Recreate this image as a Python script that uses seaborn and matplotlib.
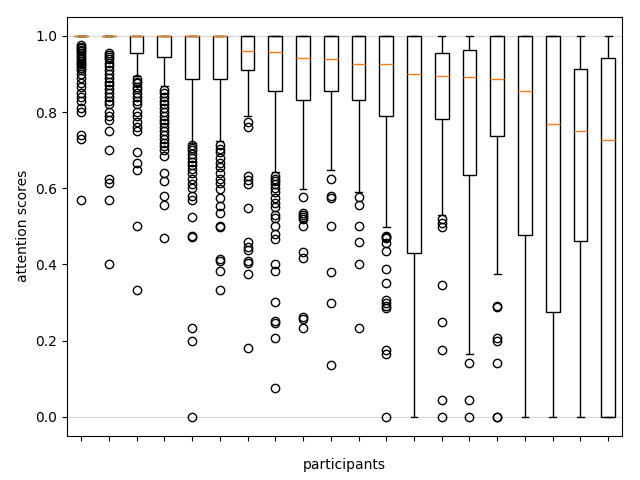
import numpy as np
import pandas as pd
import matplotlib
matplotlib.use("Agg")
import matplotlib.pyplot as plt
import seaborn as sns

participants = [f"P{i}" for i in range(1, 21)]

# box stats
q1s = [1.0, 1.0, 0.956, 0.944, 0.886, 0.886, 0.911, 0.854, 0.832, 0.854,
       0.832, 0.790, 0.431, 0.781, 0.636, 0.738, 0.476, 0.276, 0.462, 0.0]
medians = [1.0, 1.0, 1.0, 1.0, 1.0, 1.0, 0.960, 0.957, 0.941, 0.938,
           0.925, 0.925, 0.899, 0.894, 0.891, 0.886, 0.855, 0.768, 0.749, 0.726]
q3s = [1.0, 1.0, 1.0, 1.0, 1.0, 1.0, 1.0, 1.0, 1.0, 1.0,
       1.0, 1.0, 1.0, 0.954, 0.962, 1.0, 1.0, 1.0, 0.912, 0.941]
whisker_low = [1.0, 1.0, 0.895, 0.869, 0.720, 0.725, 0.790, 0.643, 0.599, 0.648,
               0.589, 0.499, 0.0, 0.530, 0.165, 0.374, 0.0, 0.0, 0.0, 0.0]
whisker_high = [1.0] * 20

outliers = [
    [0.976, 0.972, 0.968, 0.964, 0.96, 0.955, 0.95, 0.945, 0.94, 0.935, 0.93,
     0.925, 0.92, 0.915, 0.91, 0.90, 0.89, 0.875, 0.865, 0.85, 0.84, 0.83,
     0.81, 0.80, 0.74, 0.73, 0.57],
    [0.955, 0.95, 0.945, 0.94, 0.93, 0.92, 0.91, 0.90, 0.89, 0.88, 0.87, 0.86,
     0.85, 0.84, 0.83, 0.82, 0.80, 0.79, 0.78, 0.75, 0.70, 0.625, 0.615,
     0.57, 0.40],
    [0.888, 0.88, 0.875, 0.865, 0.86, 0.85, 0.84, 0.83, 0.82, 0.80, 0.79,
     0.775, 0.76, 0.75, 0.695, 0.665, 0.647, 0.50, 0.333],
    [0.858, 0.85, 0.84, 0.83, 0.82, 0.81, 0.80, 0.79, 0.78, 0.77, 0.76, 0.75,
     0.74, 0.73, 0.72, 0.71, 0.70, 0.685, 0.64, 0.62, 0.58, 0.555, 0.47],
    [0.713, 0.705, 0.70, 0.69, 0.68, 0.67, 0.66, 0.65, 0.64, 0.625, 0.61,
     0.60, 0.58, 0.57, 0.525, 0.475, 0.472, 0.233, 0.20, 0.0],
    [0.713, 0.703, 0.694, 0.68, 0.666, 0.655, 0.641, 0.625, 0.615, 0.597,
     0.575, 0.553, 0.536, 0.50, 0.499, 0.415, 0.41, 0.384, 0.333],
    [0.775, 0.762, 0.632, 0.622, 0.61, 0.549, 0.459, 0.447, 0.438, 0.409,
     0.403, 0.374, 0.181],
    [0.632, 0.625, 0.62, 0.61, 0.60, 0.59, 0.575, 0.56, 0.55, 0.53, 0.521,
     0.50, 0.479, 0.468, 0.40, 0.382, 0.301, 0.251, 0.245, 0.207, 0.075],
    [0.578, 0.535, 0.53, 0.525, 0.52, 0.50, 0.433, 0.416, 0.263, 0.258, 0.233],
    [0.624, 0.58, 0.575, 0.50, 0.381, 0.30, 0.136],
    [0.578, 0.555, 0.50, 0.46, 0.40, 0.233],
    [0.474, 0.472, 0.47, 0.455, 0.435, 0.389, 0.352, 0.306, 0.30, 0.29,
     0.286, 0.176, 0.166, 0.0],
    [],
    [0.518, 0.51, 0.499, 0.345, 0.25, 0.176, 0.044, 0.0],
    [0.141, 0.044, 0.0],
    [0.292, 0.288, 0.207, 0.198, 0.141, 0.0, 0.0],
    [],
    [],
    [],
    [],
]

# expand the read stats into samples so seaborn computes the same boxes
rows = []
for i, p in enumerate(participants):
    m = len(outliers[i]) + 1
    vals = (outliers[i] + [whisker_low[i]] + [q1s[i]] * m + [medians[i]] * m
            + [q3s[i]] * m + [whisker_high[i]])
    rows += [(p, v) for v in vals]
df = pd.DataFrame(rows, columns=["participant", "score"])

fig, ax = plt.subplots(figsize=(6.4, 4.8), dpi=100)
ax.axhline(1.0, color="#d9d9d9", lw=0.8, zorder=0)
ax.axhline(0.0, color="#d9d9d9", lw=0.8, zorder=0)
sns.boxplot(
    data=df, x="participant", y="score", order=participants,
    width=0.5, color="white", linecolor="black", linewidth=1,
    fliersize=6,
    medianprops=dict(color="#ff7f0e", linewidth=1),
    flierprops=dict(marker="o", markerfacecolor="none",
                    markeredgecolor="black", markeredgewidth=1),
    ax=ax,
)
ax.set_ylim(-0.05, 1.05)
ax.set_xticklabels([])
ax.set_xlabel("participants", labelpad=9)
ax.set_ylabel("attention scores")

fig.subplots_adjust(left=0.105, right=0.972, top=0.965, bottom=0.092)
plt.savefig("out.png", dpi=100)
